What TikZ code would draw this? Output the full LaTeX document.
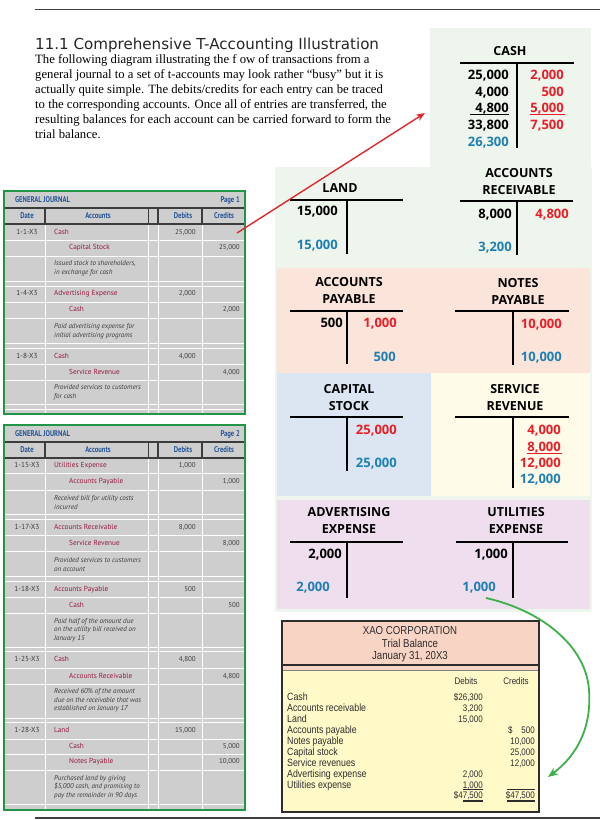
\documentclass[tikz,border=0pt]{standalone}
\usepackage{fontspec}
\setmainfont{Liberation Serif}
\newfontfamily\headfont{DejaVu Sans}
\newfontfamily\tafont{Open Sans}
\newfontfamily\jrfont{PT Sans}
\newfontfamily\jrhead[FakeStretch=0.8]{PT Sans}
\newfontfamily\tbfont[FakeStretch=0.84]{Liberation Sans}
\definecolor{cashbg}{RGB}{238,245,236}
\definecolor{paybg}{RGB}{251,229,218}
\definecolor{stockbg}{RGB}{219,230,242}
\definecolor{revbg}{RGB}{254,251,232}
\definecolor{expbg}{RGB}{238,222,238}
\definecolor{crred}{RGB}{232,30,40}
\definecolor{balblue}{RGB}{30,128,178}
\definecolor{jgray}{RGB}{206,206,206}
\definecolor{jframe}{RGB}{34,150,72}
\definecolor{jacct}{RGB}{150,28,62}
\definecolor{jhead}{RGB}{38,84,150}
\definecolor{jtext}{RGB}{60,60,60}
\definecolor{tbhead}{RGB}{248,212,196}
\definecolor{tbbody}{RGB}{255,250,200}
\definecolor{tbink}{RGB}{45,45,45}
\definecolor{flowred}{RGB}{222,40,45}
\definecolor{flowgreen}{RGB}{62,176,74}
\usetikzlibrary{arrows.meta}

\begin{document}
\begin{tikzpicture}[x=1pt,y=-1pt,
  ttl/.style={font=\tafont\bfseries\fontsize{12.5}{17}\selectfont, align=center, inner sep=0},
  amt/.style={font=\tafont\bfseries\fontsize{13}{15}\selectfont, anchor=base east, inner sep=0},
  cr/.style={amt, text=crred},
  bal/.style={amt, text=balblue},
  tbar/.style={line width=2.4pt},
  jnl/.style={inner sep=0, text height=5pt, text depth=1.5pt, text=jtext, font=\jrfont\fontsize{7.3}{8.6}\selectfont},
  jacc/.style={jnl, anchor=west, text=jacct},
  jamt/.style={jnl, anchor=east, font=\jrfont\fontsize{7}{8}\selectfont},
  jdesc/.style={inner sep=0, anchor=west, align=left, text=jtext, font=\jrfont\itshape\fontsize{7}{8.6}\selectfont},
  jcol/.style={inner sep=0, text=jhead, font=\jrhead\bfseries\fontsize{8.3}{9}\selectfont},
  jsep/.style={white, line width=0.8pt},
  tbtxt/.style={inner sep=0, anchor=base west, text=tbink, font=\tbfont\fontsize{10.5}{11}\selectfont},
  tbnum/.style={tbtxt, anchor=base east, font=\tbfont\fontsize{9.5}{11}\selectfont}]
  \fill[white] (0,0) rectangle (600,820);
  \useasboundingbox (0,0) rectangle (600,820);
  % page rules and heading
  \draw[line width=1.5pt, black!75] (35,9.5) -- (600,9.5);
  \draw[line width=1.5pt, black!75] (35,818) -- (600,818);
  \node[anchor=base west, inner sep=0, text=black!85, font=\headfont\fontsize{15.1}{17}\selectfont] (title) at (35,49) {11.1 Comprehensive T-Accounting Illustration};
  \node[anchor=north west, inner sep=0, align=left, font=\fontsize{12.7}{15}\selectfont] (intro) at (35,54.5)
    {The following diagram illustrating the f ow of transactions from a\\
     general journal to a set of t-accounts may look rather “busy” but it is\\
     actually quite simple. The debits/credits for each entry can be traced\\
     to the corresponding accounts. Once all of entries are transferred, the\\
     resulting balances for each account can be carried forward to form the\\
     trial balance.};

  % coloured panels behind the t-accounts
  \fill[cashbg] (430,28) rectangle (591,168);
  \fill[cashbg] (275,167) rectangle (592,612);
  \fill[paybg] (277,268) rectangle (590,373);
  \fill[stockbg] (277,373) rectangle (431,496);
  \fill[revbg] (431,373) rectangle (590,496);
  \fill[expbg] (277,500) rectangle (590,609);

  % general journal, page 1
  \fill[jgray] (4,191) rectangle (245,414);
  \foreach \c in {45,148,158,202} \draw[jsep] (\c,224) -- (\c,414);
  \foreach \r in {240,256,281,286,302,318,343,348,364,380,404,409} \draw[jsep] (4,\r) -- (245,\r);
  \draw[line width=1.6pt, jtext] (4,208) -- (245,208) (4,224) -- (245,224);
  \foreach \c in {45,158,202} \draw[line width=1.2pt, jtext] (\c,208) -- (\c,224);
  \draw[line width=0.6pt, jtext] (148,208) -- (148,224);
  \draw[jframe, line width=2.2pt] (4,191) rectangle (245,414);
  \node[jcol, anchor=west] (j1name) at (15,200) {GENERAL JOURNAL};
  \node[jcol, anchor=east] (j1page) at (240,200) {Page 1};
  \node[jcol] (j1date) at (27,216) {Date};
  \node[jcol] (j1acct) at (98,216) {Accounts};
  \node[jcol] (j1dr) at (183,216) {Debits};
  \node[jcol] (j1cr) at (224,216) {Credits};
  \node[jnl] (d11) at (27,233) {1-1-X3};
  \node[jacc] (a11) at (54,233) {Cash};
  \node[jamt] (v11) at (196,233) {25,000};
  \node[jacc] (a12) at (69,248) {Capital Stock};
  \node[jamt] (v12) at (240,248) {25,000};
  \node[jdesc] (e1) at (54,268.5) {Issued stock to shareholders,\\in exchange for cash};
  \node[jnl] (d21) at (27,294) {1-4-X3};
  \node[jacc] (a21) at (54,294) {Advertising Expense};
  \node[jamt] (v21) at (196,294) {2,000};
  \node[jacc] (a22) at (69,310) {Cash};
  \node[jamt] (v22) at (240,310) {2,000};
  \node[jdesc] (e2) at (54,331.5) {Paid advertising expense for\\initial advertising programs};
  \node[jnl] (d31) at (27,357) {1-8-X3};
  \node[jacc] (a31) at (54,357) {Cash};
  \node[jamt] (v31) at (196,357) {4,000};
  \node[jacc] (a32) at (69,373) {Service Revenue};
  \node[jamt] (v32) at (240,373) {4,000};
  \node[jdesc] (e3) at (54,392.5) {Provided services to customers\\for cash};

  % general journal, page 2
  \fill[jgray] (4,425) rectangle (245,810);
  \foreach \c in {45,148,158,202} \draw[jsep] (\c,458) -- (\c,810);
  \foreach \r in {473,490,514,519,535,551,576,581,597,613,647,651,668,684,718,722,739,754,770,804} \draw[jsep] (4,\r) -- (245,\r);
  \draw[line width=1.6pt, jtext] (4,442) -- (245,442) (4,458) -- (245,458);
  \foreach \c in {45,158,202} \draw[line width=1.2pt, jtext] (\c,442) -- (\c,458);
  \draw[line width=0.6pt, jtext] (148,442) -- (148,458);
  \draw[jframe, line width=2.2pt] (4,425) rectangle (245,810);
  \node[jcol, anchor=west] (j2name) at (15,434) {GENERAL JOURNAL};
  \node[jcol, anchor=east] (j2page) at (240,434) {Page 2};
  \node[jcol] (j2date) at (27,450) {Date};
  \node[jcol] (j2acct) at (98,450) {Accounts};
  \node[jcol] (j2dr) at (183,450) {Debits};
  \node[jcol] (j2cr) at (224,450) {Credits};
  \node[jnl] (d41) at (27,466) {1-15-X3};
  \node[jacc] (a41) at (54,466) {Utilities Expense};
  \node[jamt] (v41) at (196,466) {1,000};
  \node[jacc] (a42) at (69,482) {Accounts Payable};
  \node[jamt] (v42) at (240,482) {1,000};
  \node[jdesc] (e4) at (54,502.5) {Received bill for utility costs\\incurred};
  \node[jnl] (d51) at (27,528) {1-17-X3};
  \node[jacc] (a51) at (54,528) {Accounts Receivable};
  \node[jamt] (v51) at (196,528) {8,000};
  \node[jacc] (a52) at (69,544) {Service Revenue};
  \node[jamt] (v52) at (240,544) {8,000};
  \node[jdesc] (e5) at (54,564.5) {Provided services to customers\\on account};
  \node[jnl] (d61) at (27,590) {1-18-X3};
  \node[jacc] (a61) at (54,590) {Accounts Payable};
  \node[jamt] (v61) at (196,590) {500};
  \node[jacc] (a62) at (69,606) {Cash};
  \node[jamt] (v62) at (240,606) {500};
  \node[jdesc] (e6) at (54,630) {Paid half of the amount due\\on the utility bill received on\\January 15};
  \node[jnl] (d71) at (27,660) {1-25-X3};
  \node[jacc] (a71) at (54,660) {Cash};
  \node[jamt] (v71) at (196,660) {4,800};
  \node[jacc] (a72) at (69,677) {Accounts Receivable};
  \node[jamt] (v72) at (240,677) {4,800};
  \node[jdesc] (e7) at (54,700.5) {Received 60\% of the amount\\due on the receivable that was\\established on January 17};
  \node[jnl] (d81) at (27,731) {1-28-X3};
  \node[jacc] (a81) at (54,731) {Land};
  \node[jamt] (v81) at (196,731) {15,000};
  \node[jacc] (a82) at (69,747) {Cash};
  \node[jamt] (v82) at (240,747) {5,000};
  \node[jacc] (a83) at (69,762) {Notes Payable};
  \node[jamt] (v83) at (240,762) {10,000};
  \node[jdesc] (e8) at (54,787) {Purchased land by giving\\\$5,000 cash, and promising to\\pay the remainder in 90 days};

  % t-accounts
  \node[ttl] (cash) at (510,51) {CASH};
  \draw[tbar] (460,63) -- (574,63) (517,63) -- (517,148);
  \node[amt] (cash1) at (509,79.6) {25,000};
  \node[amt] (cash2) at (509,96.3) {4,000};
  \node[amt] (cash3) at (509,112.9) {4,800};
  \node[amt] (cash4) at (509,129.6) {33,800};
  \node[bal] (cashbal) at (509,146.3) {26,300};
  \node[cr] (cash5) at (564,79.6) {2,000};
  \node[cr] (cash6) at (564,96.3) {500};
  \node[cr] (cash7) at (564,112.9) {5,000};
  \node[cr] (cash8) at (564,129.6) {7,500};
  \draw[line width=0.8pt] (470,114.6) -- (509,114.6);
  \draw[line width=0.8pt, crred] (530,114.6) -- (565,114.6);

  \node[ttl] (land) at (340,188) {LAND};
  \draw[tbar] (290,200) -- (403,200) (347,200) -- (347,254);
  \node[amt] (land1) at (338,215.6) {15,000};
  \node[bal] (landbal) at (338,249.6) {15,000};

  \node[ttl] (ar) at (519,181.5) {ACCOUNTS\\RECEIVABLE};
  \draw[tbar] (460,201) -- (573,201) (517,201) -- (517,255);
  \node[amt] (ar1) at (512,218.6) {8,000};
  \node[cr] (ar2) at (569,218.6) {4,800};
  \node[bal] (arbal) at (512,251.6) {3,200};

  \node[ttl] (ap) at (349,290.5) {ACCOUNTS\\PAYABLE};
  \draw[tbar] (290,311) -- (403,311) (347,311) -- (347,364);
  \node[amt] (ap1) at (343,327.6) {500};
  \node[cr] (ap2) at (397,327.6) {1,000};
  \node[bal] (apbal) at (396,361.6) {500};

  \node[ttl] (np) at (518,291.5) {NOTES\\PAYABLE};
  \draw[tbar] (455,311) -- (569,311) (513,311) -- (513,365);
  \node[cr] (np1) at (562,328.6) {10,000};
  \node[bal] (npbal) at (562,361.6) {10,000};

  \node[ttl] (cs) at (349,397.5) {CAPITAL\\STOCK};
  \draw[tbar] (290,417) -- (403,417) (347,417) -- (347,471);
  \node[cr] (cs1) at (397,434.6) {25,000};
  \node[bal] (csbal) at (397,467.6) {25,000};

  \node[ttl] (sr) at (515,397.5) {SERVICE\\REVENUE};
  \draw[tbar] (455,417) -- (569,417) (513,417) -- (513,488);
  \node[cr] (sr1) at (561,434.6) {4,000};
  \node[cr] (sr2) at (561,451.2) {8,000};
  \node[cr] (sr3) at (561,467.6) {12,000};
  \node[bal] (srbal) at (561,483.6) {12,000};
  \draw[line width=0.8pt, crred] (527,453.2) -- (562,453.2);

  \node[ttl] (ae) at (349,521) {ADVERTISING\\EXPENSE};
  \draw[tbar] (290,542) -- (403,542) (347,542) -- (347,598);
  \node[amt] (ae1) at (342,558.6) {2,000};
  \node[bal] (aebal) at (330,591.6) {2,000};

  \node[ttl] (ue) at (516,521) {UTILITIES\\EXPENSE};
  \draw[tbar] (456,542) -- (568,542) (513,542) -- (513,598);
  \node[amt] (ue1) at (508,558.6) {1,000};
  \node[bal] (uebal) at (496,591.6) {1,000};

  % trial balance
  \fill[tbhead] (282,621) rectangle (539,670);
  \fill[tbbody] (282,670) rectangle (539,812);
  \draw[line width=2pt, tbink] (282,664.5) -- (539,664.5);
  \draw[line width=0.6pt, black!50] (282,670) -- (539,670);
  \draw[line width=2.4pt, tbink] (282,621) rectangle (539,812);
  \node[tbtxt, anchor=base, font=\tbfont\fontsize{11.5}{12}\selectfont] (tbco) at (410,634.5) {XAO CORPORATION};
  \node[tbtxt, anchor=base, font=\tbfont\fontsize{11.5}{12}\selectfont] (tbname) at (410,647.5) {Trial Balance};
  \node[tbtxt, anchor=base, font=\tbfont\fontsize{11.5}{12}\selectfont] (tbdate) at (410,659.5) {January 31, 20X3};
  \node[tbnum, anchor=base] (tbdr) at (466,684.5) {Debits};
  \node[tbnum, anchor=base] (tbcr) at (516,684.5) {Credits};
  \node[tbtxt] (tb1) at (287,700.5) {Cash};
  \node[tbtxt] (tb2) at (287,711.5) {Accounts receivable};
  \node[tbtxt] (tb3) at (287,722.5) {Land};
  \node[tbtxt] (tb4) at (287,733.5) {Accounts payable};
  \node[tbtxt] (tb5) at (287,744.5) {Notes payable};
  \node[tbtxt] (tb6) at (287,755.5) {Capital stock};
  \node[tbtxt] (tb7) at (287,766.5) {Service revenues};
  \node[tbtxt] (tb8) at (287,777.5) {Advertising expense};
  \node[tbtxt] (tb9) at (287,788) {Utilities expense};
  \node[tbnum] (tbd1) at (483,700.5) {\$26,300};
  \node[tbnum] (tbd2) at (483,711.5) {3,200};
  \node[tbnum] (tbd3) at (483,722.5) {15,000};
  \node[tbnum] (tbd8) at (483,777.5) {2,000};
  \node[tbnum] (tbd9) at (483,788) {1,000};
  \node[tbnum] (tbdt) at (483,798.5) {\$47,500};
  \node[tbnum] (tbc4) at (535,733.5) {\$\hspace{9pt}500};
  \node[tbnum] (tbc5) at (535,744.5) {10,000};
  \node[tbnum] (tbc6) at (535,755.5) {25,000};
  \node[tbnum] (tbc7) at (535,766.5) {12,000};
  \node[tbnum] (tbct) at (535,798.5) {\$47,500};
  \draw[line width=0.7pt, tbink] (463,789.8) -- (483,789.8) (507,789.8) -- (535,789.8);
  \draw[line width=2pt, tbink] (463,800.8) -- (483,800.8) (507,800.8) -- (535,800.8);

  % flow arrows
  \coordinate (postcash) at (237,233);
  \coordinate (cashin) at (425,113);
  \coordinate (ueout) at (486,598);
  \coordinate (tbin) at (548,777);
  \draw[flowred, line width=1.4pt, -{Stealth[length=9pt,width=7pt]}] (postcash) -- (cashin);
  \draw[flowgreen, line width=1.8pt, -{Stealth[length=10pt,width=8pt]}] (ueout)
    .. controls (540,610) and (586,645) .. (589,690)
    .. controls (592,730) and (575,757) .. (tbin);
\end{tikzpicture}
\end{document}
